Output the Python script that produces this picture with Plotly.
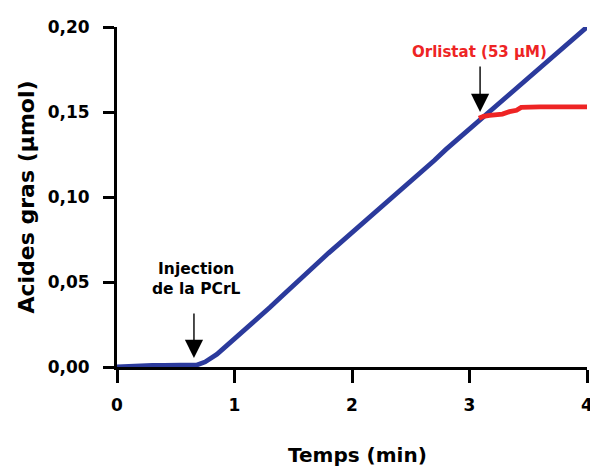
import plotly.graph_objects as go

# Blue trace (control): time (min) and fatty acids (µmol)
t_ctrl = [0.00, 0.10, 0.20, 0.30, 0.40, 0.50, 0.60, 0.68, 0.75, 0.80, 0.85, 0.90, 0.95,
          1.00, 1.10, 1.20, 1.30, 1.40, 1.50, 1.60, 1.70, 1.80, 1.90, 2.00, 2.10, 2.20,
          2.30, 2.40, 2.50, 2.60, 2.70, 2.80, 2.90, 3.00, 3.10, 3.20, 3.30, 3.40, 3.50,
          3.60, 3.70, 3.80, 3.90, 4.00]
y_ctrl = [0.0000, 0.0005, 0.0010, 0.0010, 0.0010, 0.0010, 0.0010, 0.0012, 0.0030, 0.0050,
          0.0075, 0.0105, 0.0135, 0.0165, 0.0230, 0.0290, 0.0350, 0.0415, 0.0480, 0.0540,
          0.0610, 0.0670, 0.0730, 0.0790, 0.0850, 0.0910, 0.0970, 0.1030, 0.1090, 0.1155,
          0.1215, 0.1280, 0.1340, 0.1400, 0.1460, 0.1520, 0.1580, 0.1640, 0.1700, 0.1760,
          0.1820, 0.1880, 0.1940, 0.2000]

# Red trace (after Orlistat)
t_orl = [3.08, 3.12, 3.17, 3.28, 3.34, 3.40, 3.44, 3.60, 4.00]
y_orl = [0.1463, 0.1475, 0.1480, 0.1488, 0.1502, 0.1510, 0.1527, 0.1530, 0.1530]

x_ticks = [0, 1, 2, 3, 4]
y_ticks = [0.00, 0.05, 0.10, 0.15, 0.20]
y_tick_labels = ["0,00", "0,05", "0,10", "0,15", "0,20"]

BLUE = "#2b3a9c"
RED = "#ee2424"
FONT = "DejaVu Sans"

fig = go.Figure()
fig.add_trace(go.Scatter(x=t_ctrl, y=y_ctrl, mode="lines",
                         line=dict(color=BLUE, width=4.8), hoverinfo="skip"))
fig.add_trace(go.Scatter(x=t_orl, y=y_orl, mode="lines",
                         line=dict(color=RED, width=4.8), hoverinfo="skip"))

# Arrows
fig.add_annotation(x=0.655, y=0.0053, ax=0, ay=-46, showarrow=True, text="",
                   arrowhead=2, arrowsize=2.6, arrowwidth=1.4, arrowcolor="black")
fig.add_annotation(x=3.09, y=0.150, ax=0, ay=-47, showarrow=True, text="",
                   arrowhead=2, arrowsize=2.6, arrowwidth=1.4, arrowcolor="black")

# Labels
fig.add_annotation(x=0.68, y=0.0518, text="<b>Injection<br>de la PCrL</b>", showarrow=False,
                   font=dict(family=FONT, size=15.5, color="black"), align="center",
                   xanchor="center", yanchor="middle")
fig.add_annotation(x=3.085, y=0.1853, text="<b>Orlistat (53 µM)</b>", showarrow=False,
                   font=dict(family=FONT, size=15, color=RED), xanchor="center", yanchor="middle")

# X axis title
fig.add_annotation(xref="paper", yref="paper", x=0.511, y=-0.259,
                   text="<b>Temps (min)</b>", showarrow=False,
                   font=dict(family=FONT, size=20, color="black"),
                   xanchor="center", yanchor="middle")

fig.update_layout(
    width=590, height=468,
    margin=dict(l=117, r=3, t=27, b=101),
    paper_bgcolor="white", plot_bgcolor="white",
    showlegend=False,
    font=dict(family=FONT, color="black"),
)
fig.update_xaxes(
    range=[0, 4], tickvals=x_ticks, ticktext=[f"<b>{v}</b>" for v in x_ticks],
    showgrid=False, zeroline=False, showline=True, linecolor="black", linewidth=3,
    ticks="outside", ticklen=13, tickwidth=3, tickcolor="black",
    tickfont=dict(family=FONT, size=17), automargin=False, ticklabelstandoff=8,
    ticklabeloverflow="allow",
)
fig.update_yaxes(
    range=[0, 0.2], tickvals=y_ticks, ticktext=[f"<b>{s}</b>" for s in y_tick_labels],
    showgrid=False, zeroline=False, showline=True, linecolor="black", linewidth=3,
    ticks="outside", ticklen=11, tickwidth=3, tickcolor="black",
    tickfont=dict(family=FONT, size=17), automargin=False, ticklabelstandoff=10,
    title=dict(text="<b>Acides gras (µmol)</b>", font=dict(family=FONT, size=22), standoff=7),
)

fig.write_html("out.html", config={"displayModeBar": False},
               post_script="document.body.style.margin='0';")
